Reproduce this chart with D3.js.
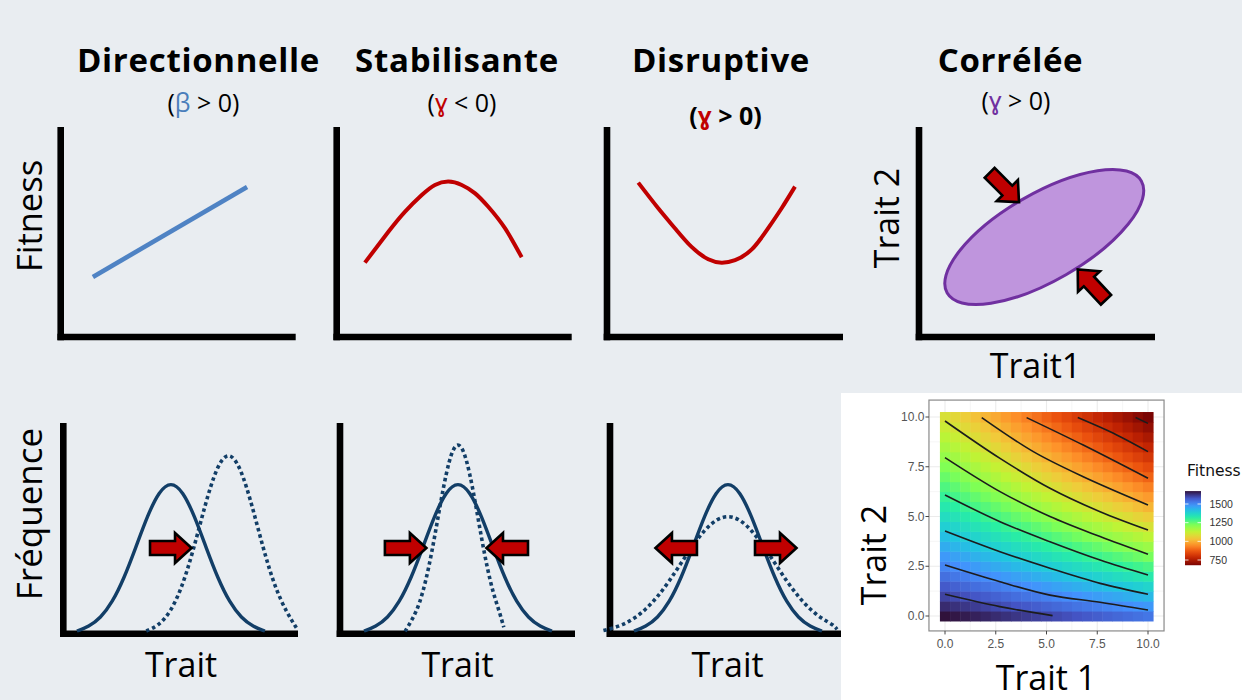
<!DOCTYPE html>
<html><head><meta charset="utf-8">
<script src="https://cdn.jsdelivr.net/npm/d3@7"></script>
<style>
body{margin:0;background:#e9edf1;}
svg{display:block;font-family:'Open Sans',sans-serif;}
</style>
</head><body>
<svg id="c" width="1242" height="700"></svg>
<script>
// ---------------- DATA ----------------
const titles = ["Directionnelle", "Stabilisante", "Disruptive", "Corrélée"];
const subtitleSymbols = ["β", "ɣ", "ɣ", "ɣ"];
const subtitleRest = [" > 0)", " < 0)", " > 0)", " > 0)"];
const rowLabels = ["Fitness", "Fréquence"];
const bottomXLabel = "Trait";

// top row fitness functions (trait units 0-10, fitness units 0-10)
const directionalLine = [[1.37, 2.86], [7.93, 7.14]];
const stabilizingCurve = [[1.20, 3.54], [2.20, 5.01], [2.91, 5.97], [3.62, 6.76], [4.18, 7.24], [4.75, 7.40], [5.32, 7.24], [5.89, 6.84], [6.45, 6.20], [7.16, 5.18], [7.87, 3.80]];
const disruptiveCurve = [[1.33, 7.35], [2.18, 6.13], [2.89, 5.18], [3.60, 4.29], [4.31, 3.70], [4.88, 3.54], [5.45, 3.66], [6.16, 4.17], [6.86, 5.18], [7.43, 6.13], [8.0, 7.16]];
const ellipseCenter = [5.33, 4.76];
const ellipseAxes = [4.77, 1.85];
const ellipseAngle = 30;
const correlatedArrows = [[4.30, 6.37, 45], [6.71, 3.27, 227]]; // tip x, tip y, direction (deg)

// bottom row frequency distributions
const beforeP1 = [[0.58,0.12],[1.08,0.32],[1.58,0.73],[2.08,1.47],[2.58,2.61],[3.08,4.08],[3.58,5.61],[4.08,6.79],[4.58,7.24],[5.08,6.79],[5.58,5.61],[6.08,4.08],[6.58,2.61],[7.08,1.47],[7.58,0.73],[8.08,0.32],[8.58,0.12]];
const afterP1 = [[3.53,0.12],[4.03,0.36],[4.53,0.96],[5.03,2.12],[5.53,3.94],[6.03,6.12],[6.53,7.97],[7.03,8.71],[7.53,7.97],[8.03,6.12],[8.53,3.94],[9.03,2.12],[9.53,0.96],[9.93,0.25]];
const beforeP2 = [[1.02,0.12],[1.52,0.32],[2.02,0.73],[2.52,1.47],[3.02,2.61],[3.52,4.08],[4.02,5.61],[4.52,6.79],[5.02,7.24],[5.52,6.79],[6.02,5.61],[6.52,4.08],[7.02,2.61],[7.52,1.47],[8.02,0.73],[8.52,0.32],[9.02,0.12]];
const afterP2 = [[2.77,0.10],[3.02,0.57],[3.27,1.09],[3.52,1.92],[3.77,3.09],[4.02,4.55],[4.27,6.17],[4.52,7.65],[4.77,8.72],[5.02,9.10],[5.27,8.72],[5.52,7.65],[5.77,6.17],[6.02,4.55],[6.27,3.09],[6.52,1.92],[6.77,1.09],[6.97,0.30]];
const beforeP3 = [[1.02,0.12],[1.52,0.32],[2.02,0.73],[2.52,1.47],[3.02,2.61],[3.52,4.08],[4.02,5.61],[4.52,6.79],[5.02,7.24],[5.52,6.79],[6.02,5.61],[6.52,4.08],[7.02,2.61],[7.52,1.47],[8.02,0.73],[8.52,0.32],[9.02,0.12]];
const afterP3 = [[-0.28,0.14],[0.02,0.22],[0.52,0.40],[1.02,0.70],[1.52,1.14],[2.02,1.74],[2.52,2.49],[3.02,3.34],[3.52,4.19],[4.02,4.93],[4.52,5.44],[5.02,5.62],[5.52,5.44],[6.02,4.93],[6.52,4.19],[7.02,3.34],[7.52,2.49],[8.02,1.74],[8.52,1.14],[9.02,0.70],[9.52,0.40],[9.66,0.20]];
const bottomArrows = [ // panel, tip x, tip y, direction
  [0, 5.52, 4.07, 0],
  [1, 3.74, 4.07, 0], [1, 6.17, 4.07, 180],
  [2, 1.87, 4.07, 180], [2, 8.00, 4.07, 0]
];

// heatmap (ggplot) data
const gridSteps = [0,0.5,1,1.5,2,2.5,3,3.5,4,4.5,5,5.5,6,6.5,7,7.5,8,8.5,9,9.5,10];
const fitnessGrid = [ // rows: trait 2 = 0 .. 10 ; columns: trait 1 = 0 .. 10
[1673,1666,1659,1652,1645,1638,1631,1624,1617,1610,1603,1596,1589,1582,1575,1568,1560,1553,1546,1539,1532],
[1639,1631,1623,1615,1607,1599,1591,1583,1575,1567,1559,1551,1543,1535,1527,1519,1511,1503,1495,1487,1479],
[1606,1597,1588,1579,1570,1561,1552,1543,1534,1525,1516,1507,1498,1489,1480,1471,1462,1453,1444,1435,1426],
[1573,1563,1553,1543,1534,1524,1514,1504,1494,1484,1474,1464,1454,1444,1435,1425,1415,1405,1395,1385,1375],
[1541,1530,1519,1508,1498,1487,1476,1465,1455,1444,1433,1422,1411,1401,1390,1379,1368,1357,1347,1336,1325],
[1509,1497,1486,1474,1462,1451,1439,1427,1416,1404,1393,1381,1369,1358,1346,1334,1323,1311,1299,1288,1276],
[1478,1465,1453,1440,1428,1415,1403,1390,1378,1365,1353,1340,1328,1316,1303,1291,1278,1266,1253,1241,1228],
[1447,1433,1420,1407,1394,1380,1367,1354,1341,1327,1314,1301,1288,1274,1261,1248,1235,1221,1208,1195,1182],
[1416,1402,1388,1374,1360,1346,1332,1318,1304,1290,1276,1262,1248,1234,1220,1206,1192,1178,1164,1150,1136],
[1386,1372,1357,1342,1328,1313,1298,1283,1269,1254,1239,1224,1210,1195,1180,1166,1151,1136,1121,1107,1092],
[1357,1342,1326,1311,1295,1280,1265,1249,1234,1218,1203,1187,1172,1157,1141,1126,1110,1095,1080,1064,1049],
[1328,1312,1296,1280,1264,1248,1232,1216,1200,1183,1167,1151,1135,1119,1103,1087,1071,1055,1039,1023,1007],
[1300,1283,1266,1250,1233,1216,1200,1183,1166,1149,1133,1116,1099,1083,1066,1049,1033,1016,999,982,966],
[1272,1255,1237,1220,1203,1185,1168,1151,1133,1116,1099,1082,1064,1047,1030,1012,995,978,961,943,926],
[1244,1227,1209,1191,1173,1155,1137,1119,1102,1084,1066,1048,1030,1012,995,977,959,941,923,905,887],
[1218,1199,1181,1162,1144,1126,1107,1089,1071,1052,1034,1015,997,979,960,942,924,905,887,868,850],
[1191,1172,1153,1134,1116,1097,1078,1059,1040,1021,1002,983,965,946,927,908,889,870,851,832,814],
[1165,1146,1127,1107,1088,1069,1049,1030,1011,991,972,953,933,914,895,875,856,837,817,798,778],
[1140,1120,1100,1081,1061,1041,1021,1001,982,962,942,922,903,883,863,843,824,804,784,764,744],
[1115,1095,1074,1054,1034,1014,994,974,954,933,913,893,873,853,833,812,792,772,752,732,712],
[1090,1070,1049,1029,1008,988,967,947,926,906,885,865,844,824,803,783,762,741,721,700,680]
];
const contourLines = [
  [[0,1.09],[2.7,0.47],[5.3,0.02]],
  [[0,2.56],[2.71,1.72],[5.17,1.05],[7.64,0.69],[10,0.30]],
  [[0,4.27],[2.71,3.23],[5.17,2.40],[7.64,1.64],[10,1.09]],
  [[0,6.08],[2.71,4.74],[5.17,3.73],[7.64,2.81],[10,2.06]],
  [[0,7.96],[2.71,6.25],[5.17,5.0],[7.64,3.99],[10,3.10]],
  [[0,9.8],[2.71,7.92],[5.17,6.42],[7.64,5.24],[10,4.32]],
  [[1.81,9.97],[4.35,8.26],[6.81,7.0],[10,5.58]],
  [[4.02,9.97],[6.81,8.59],[10,6.92]],
  [[6.54,9.97],[8.46,9.1],[10,8.26]],
  [[9.39,9.97],[10,9.68]]
];
const heatTicks = [0, 2.5, 5, 7.5, 10];
const heatTickLabels = ["0.0", "2.5", "5.0", "7.5", "10.0"];
const heatMinorTicks = [1.25, 3.75, 6.25, 8.75];
const legendBreaks = [750, 1000, 1250, 1500];
const legendTitle = "Fitness";
// turbo palette (high fitness -> low fitness)
const paletteColors = ["#30123B", "#4454C4", "#4490FE", "#1FC8DE", "#29EFA2", "#7DFF56", "#C1F334", "#F1CA3A", "#FE922A", "#EA4F0D", "#BE2102", "#7A0403"];

// ---------------- DRAWING ----------------
const svg = d3.select("#c");
const RED = "#c00000", NAVY = "#123e67";

// titles & subtitles
const titleX = [198.5, 457, 721, 1010.5];
const subX = [203.5, 462, 725.5, 1016];
const subY = [112, 112, 125, 110];
const subBold = [false, false, true, false];
const symColor = ["#4a7ebb", RED, RED, "#7030a0"];
titles.forEach((t, i) => {
  svg.append("text").attr("x", titleX[i]).attr("y", 72).attr("text-anchor", "middle")
    .attr("font-size", 33).attr("font-weight", "bold").attr("letter-spacing", 0.7).attr("fill", "#000").text(t);
  const st = svg.append("text").attr("x", subX[i]).attr("y", subY[i]).attr("text-anchor", "middle")
    .attr("font-size", 25).attr("font-weight", subBold[i] ? "bold" : "normal").attr("fill", "#000");
  st.append("tspan").text("(");
  st.append("tspan").attr("fill", symColor[i]).text(subtitleSymbols[i]);
  st.append("tspan").text(subtitleRest[i]);
});

// row labels
svg.append("text").attr("transform", "translate(42,216) rotate(-90)").attr("text-anchor", "middle")
  .attr("font-size", 34.5).text(rowLabels[0]);
svg.append("text").attr("transform", "translate(42,514) rotate(-90)").attr("text-anchor", "middle")
  .attr("font-size", 35).text(rowLabels[1]);

// ---- top panels
const topVX = [60.7, 336.7, 607, 919];
const topEnd = [295.7, 571.7, 843, 1155];
const topX = topVX.map(v => d3.scaleLinear([0, 10], [v, v + 235]));
const topY = d3.scaleLinear([0, 10], [337, 127]);
const AW = 6.6;
topVX.forEach((v, i) => {
  svg.append("line").attr("x1", v).attr("x2", v).attr("y1", 127).attr("y2", 337 + AW / 2)
    .attr("stroke", "#000").attr("stroke-width", AW);
  svg.append("line").attr("x1", v - AW / 2).attr("x2", topEnd[i]).attr("y1", 337).attr("y2", 337)
    .attr("stroke", "#000").attr("stroke-width", AW);
});
const lineGen = (xs, ys, curve) => d3.line().x(d => xs(d[0])).y(d => ys(d[1])).curve(curve);
svg.append("path").datum(directionalLine).attr("d", lineGen(topX[0], topY, d3.curveLinear))
  .attr("fill", "none").attr("stroke", "#4f83c4").attr("stroke-width", 4.6);
svg.append("path").datum(stabilizingCurve).attr("d", lineGen(topX[1], topY, d3.curveNatural))
  .attr("fill", "none").attr("stroke", RED).attr("stroke-width", 4);
svg.append("path").datum(disruptiveCurve).attr("d", lineGen(topX[2], topY, d3.curveNatural))
  .attr("fill", "none").attr("stroke", RED).attr("stroke-width", 4);

// correlated ellipse
const ux = topX[3](1) - topX[3](0);
svg.append("ellipse")
  .attr("transform", `translate(${topX[3](ellipseCenter[0])},${topY(ellipseCenter[1])}) rotate(${-ellipseAngle})`)
  .attr("rx", ellipseAxes[0] * ux).attr("ry", ellipseAxes[1] * ux)
  .attr("fill", "#bf95dd").attr("stroke", "#7030a0").attr("stroke-width", 3);

// block arrow (points along +x, tip at origin)
const arrowD = "M-1.5,0 L-18,-15 L-18,-7 L-43,-7 L-43,7 L-18,7 L-18,15 Z";
function drawArrow(px, py, ang) {
  svg.append("path").attr("d", arrowD)
    .attr("transform", `translate(${px},${py}) rotate(${ang})`)
    .attr("fill", RED).attr("stroke", "#000").attr("stroke-width", 2.6).attr("stroke-linejoin", "miter");
}
correlatedArrows.forEach(a => drawArrow(topX[3](a[0]), topY(a[1]), a[2]));

svg.append("text").attr("transform", "translate(899,218) rotate(-90)").attr("text-anchor", "middle")
  .attr("font-size", 34).text("Trait 2");
svg.append("text").attr("x", 1035.5).attr("y", 378).attr("text-anchor", "middle")
  .attr("font-size", 34).text("Trait1");

// ---- bottom panels
const botVX = [63.3, 340, 610];
const botEnd = [298, 575, 850];
const botX = botVX.map(v => d3.scaleLinear([0, 10], [v, v + 235]));
const botY = d3.scaleLinear([0, 10], [633.5, 423.5]);
botVX.forEach((v, i) => {
  svg.append("line").attr("x1", v).attr("x2", v).attr("y1", 423).attr("y2", 633.7 + AW / 2)
    .attr("stroke", "#000").attr("stroke-width", AW);
  svg.append("line").attr("x1", v - AW / 2).attr("x2", botEnd[i]).attr("y1", 633.7).attr("y2", 633.7)
    .attr("stroke", "#000").attr("stroke-width", AW);
  svg.append("text").attr("x", [181, 457.5, 727.5][i]).attr("y", 677).attr("text-anchor", "middle")
    .attr("font-size", 34).text(bottomXLabel);
});
const befores = [beforeP1, beforeP2, beforeP3];
const afters = [afterP1, afterP2, afterP3];
befores.forEach((b, i) => {
  svg.append("path").datum(b).attr("d", lineGen(botX[i], botY, d3.curveBasis))
    .attr("fill", "none").attr("stroke", NAVY).attr("stroke-width", 3.4);
  svg.append("path").datum(afters[i]).attr("d", lineGen(botX[i], botY, d3.curveBasis))
    .attr("fill", "none").attr("stroke", NAVY).attr("stroke-width", 3.6).attr("stroke-dasharray", "3.5 3");
});
bottomArrows.forEach(a => drawArrow(botX[a[0]](a[1]), botY(a[2]), a[3]));

// ---- heatmap inset (ggplot style)
svg.append("rect").attr("x", 841).attr("y", 393).attr("width", 401).attr("height", 307).attr("fill", "#fff");
const hx = d3.scaleLinear([0, 10], [945, 1148]);
const hy = d3.scaleLinear([0, 10], [616, 417]);
const allV = fitnessGrid.flat();
const minV = d3.min(allV), maxV = d3.max(allV);
const pal = d3.piecewise(d3.interpolateRgb, paletteColors);
const col = v => pal(Math.max(0, Math.min(1, (maxV - v) / (maxV - minV))));
const px0 = hx(-0.79), px1 = hx(10.79), py0 = hy(10.85), py1 = hy(-0.75);
const g = svg.append("g");
g.append("rect").attr("x", px0).attr("y", py0).attr("width", px1 - px0).attr("height", py1 - py0).attr("fill", "#fff");
heatMinorTicks.forEach(t => {
  g.append("line").attr("x1", hx(t)).attr("x2", hx(t)).attr("y1", py0).attr("y2", py1).attr("stroke", "#f0f0f0").attr("stroke-width", 0.6);
  g.append("line").attr("y1", hy(t)).attr("y2", hy(t)).attr("x1", px0).attr("x2", px1).attr("stroke", "#f0f0f0").attr("stroke-width", 0.6);
});
heatTicks.forEach(t => {
  g.append("line").attr("x1", hx(t)).attr("x2", hx(t)).attr("y1", py0).attr("y2", py1).attr("stroke", "#ebebeb").attr("stroke-width", 1.1);
  g.append("line").attr("y1", hy(t)).attr("y2", hy(t)).attr("x1", px0).attr("x2", px1).attr("stroke", "#ebebeb").attr("stroke-width", 1.1);
});
const tw = hx(0.5) - hx(0), th = hy(0) - hy(0.5);
fitnessGrid.forEach((row, j) => {
  row.forEach((v, i) => {
    g.append("rect").attr("x", hx(gridSteps[i] - 0.25)).attr("y", hy(gridSteps[j] + 0.25))
      .attr("width", tw + 0.5).attr("height", th + 0.5).attr("fill", col(v));
  });
});
contourLines.forEach(c => {
  g.append("path").datum(c).attr("d", lineGen(hx, hy, d3.curveCatmullRom))
    .attr("fill", "none").attr("stroke", "#1c1c1c").attr("stroke-width", 1.6);
});
g.append("rect").attr("x", px0).attr("y", py0).attr("width", px1 - px0).attr("height", py1 - py0)
  .attr("fill", "none").attr("stroke", "#8a8a8a").attr("stroke-width", 1.2);
heatTicks.forEach((t, k) => {
  g.append("line").attr("x1", px0 - 3.5).attr("x2", px0).attr("y1", hy(t)).attr("y2", hy(t)).attr("stroke", "#444").attr("stroke-width", 1);
  g.append("line").attr("y1", py1).attr("y2", py1 + 3.5).attr("x1", hx(t)).attr("x2", hx(t)).attr("stroke", "#444").attr("stroke-width", 1);
  g.append("text").attr("x", px0 - 4.5).attr("y", hy(t) + 4.2).attr("text-anchor", "end")
    .attr("font-family", "Liberation Sans, Arial, sans-serif").attr("font-size", 12).attr("fill", "#555").text(heatTickLabels[k]);
  g.append("text").attr("x", hx(t)).attr("y", 647.5).attr("text-anchor", "middle")
    .attr("font-family", "Liberation Sans, Arial, sans-serif").attr("font-size", 12).attr("fill", "#555").text(heatTickLabels[k]);
});
svg.append("text").attr("transform", "translate(886,555) rotate(-90)").attr("text-anchor", "middle")
  .attr("font-size", 34).text("Trait 2");
svg.append("text").attr("x", 1046).attr("y", 690).attr("text-anchor", "middle")
  .attr("font-size", 34).text("Trait 1");

// legend
const ly = d3.scaleLinear([750, 1500], [560, 504]);
const defs = svg.append("defs");
const grad = defs.append("linearGradient").attr("id", "lg").attr("x1", 0).attr("x2", 0).attr("y1", 0).attr("y2", 1);
d3.range(0, 1.0001, 0.05).forEach(o => {
  grad.append("stop").attr("offset", o).attr("stop-color", col(maxV - o * (maxV - minV)));
});
svg.append("rect").attr("x", 1185).attr("y", ly(maxV)).attr("width", 16).attr("height", ly(minV) - ly(maxV)).attr("fill", "url(#lg)");
legendBreaks.forEach(b => {
  svg.append("line").attr("x1", 1185).attr("x2", 1188.5).attr("y1", ly(b)).attr("y2", ly(b)).attr("stroke", "#fff").attr("stroke-width", 0.8);
  svg.append("line").attr("x1", 1197.5).attr("x2", 1201).attr("y1", ly(b)).attr("y2", ly(b)).attr("stroke", "#fff").attr("stroke-width", 0.8);
  svg.append("text").attr("x", 1209.5).attr("y", ly(b) + 3.7).attr("font-family", "Liberation Sans, Arial, sans-serif")
    .attr("font-size", 10.5).attr("fill", "#333").text(b);
});
svg.append("text").attr("x", 1187).attr("y", 476).attr("font-family", "DejaVu Sans, sans-serif")
  .attr("font-size", 15.5).attr("fill", "#111").text(legendTitle);
</script>
</body></html>
